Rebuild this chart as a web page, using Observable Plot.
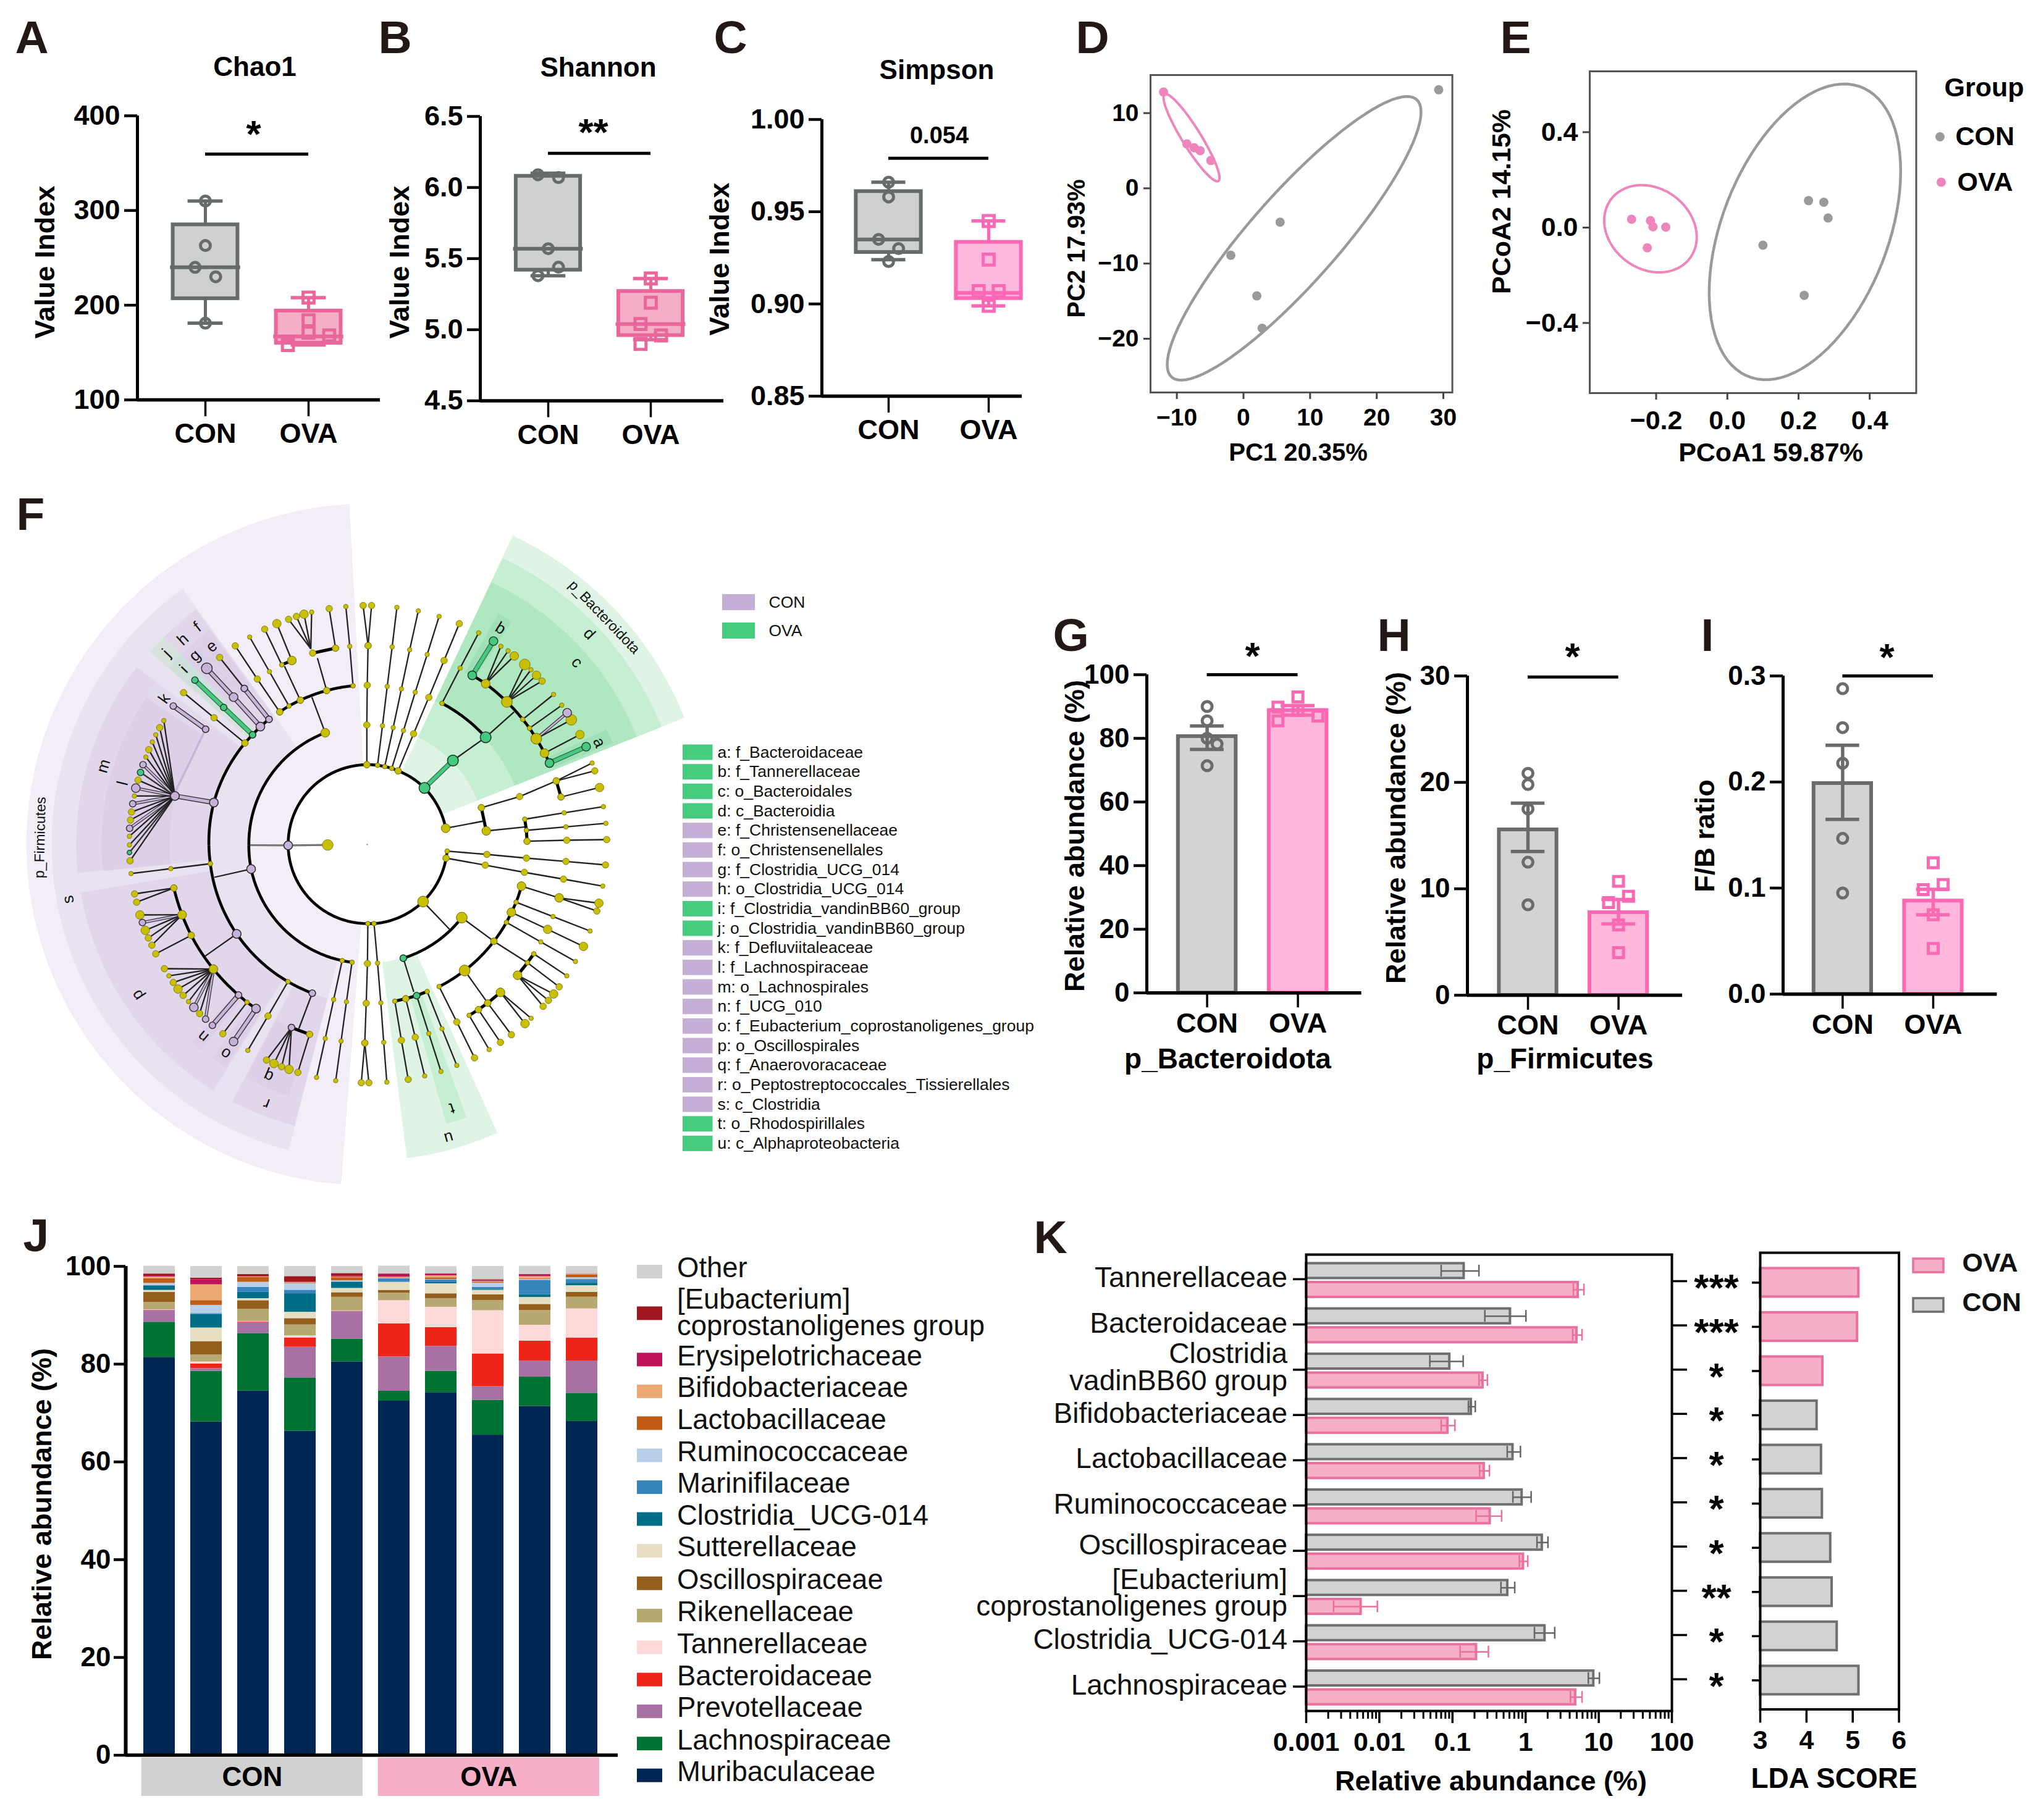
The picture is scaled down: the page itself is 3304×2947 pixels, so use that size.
<!DOCTYPE html>
<html>
<head>
<meta charset="utf-8">
<script src="https://cdn.jsdelivr.net/npm/d3@7"></script>
<script src="https://cdn.jsdelivr.net/npm/@observablehq/plot@0.6"></script>
<style>html,body{margin:0;padding:0;background:#fff}#root{position:relative;width:3304px;height:2947px;overflow:hidden;background:#fff}</style>
</head>
<body>
<div id="root"></div>
<script>
// ---------- shared ----------
const groups = ["CON", "OVA"];
const FONT = "'Liberation Sans', Arial, sans-serif";
const GREY = {fill: "#d0d0d0", stroke: "#666b6b"};
const PINK_A = {fill: "#f4afc7", stroke: "#e9669b"};
const PINK_C = {fill: "#fdb9dd", stroke: "#fb69b6"};

// ---------- A, B, C: whisker-low, q1, median, q3, whisker-high ----------
const chao1Stats = [[181, 207, 240, 285, 310], [158, 160, 167, 194, 208]];
const chao1Points = [[310, 263, 240, 230, 181], [208, 184, 171, 168, 158]];
const chao1Jitter = [[0, 0, -1, 1, 0], [0, 0, 0, 2, -2]];
const shannonStats = [[5.38, 5.42, 5.57, 6.08, 6.1], [4.93, 4.96, 5.04, 5.27, 5.36]];
const shannonPoints = [[6.09, 6.07, 5.57, 5.44, 5.38], [5.36, 5.19, 5.04, 4.96, 4.9]];
const shannonJitter = [[-1, 1, 0, 1, -1], [0, 0, -1, 1, -1]];
const simpsonStats = [[0.924, 0.928, 0.935, 0.961, 0.966], [0.899, 0.903, 0.906, 0.9335, 0.945]];
const simpsonPoints = [[0.966, 0.958, 0.935, 0.93, 0.923], [0.945, 0.924, 0.907, 0.907, 0.899]];
const simpsonJitter = [[0, 0, -1, 1, 0], [0, 0, -1, 1, 0]];

// ---------- D, E ----------
const pcaCon = [[29.3, 13.1], [5.5, -4.5], [-1.9, -8.9], [2.0, -14.3], [2.8, -18.6]];
const pcaOva = [[-12, 12.8], [-8.5, 5.9], [-7.4, 5.4], [-6.5, 5.0], [-4.9, 3.7]];
const pcoaCon = [[0.228, 0.113], [0.271, 0.106], [0.283, 0.04], [0.1, -0.074], [0.216, -0.284]];
const pcoaOva = [[-0.269, 0.035], [-0.216, 0.029], [-0.209, 0.003], [-0.173, 0.002], [-0.225, -0.085]];
// centre x, centre y, half extent x, half extent y, correlation
const pcaEllipses = [[7.6, -6.65, 19.05, 18.86, 0.89], [-7.8, 6.73, 4.2, 5.8, -0.92]];
const pcoaEllipses = [[0.218, -0.018, 0.269, 0.62, 0.41], [-0.216, -0.005, 0.13, 0.183, -0.19]];

// ---------- G, H, I: CON, OVA ----------
const bacteroidotaMean = [80.6, 88.8], bacteroidotaHi = [83.9, 90.3], bacteroidotaLo = [76.5, 87.3];
const bacteroidotaPoints = [[90, 85.5, 80, 78.2, 71.4], [93, 89.8, 88.8, 87, 85.5]];
const bacteroidotaJitter = [[0, 0, 0, 1, 0], [0, -2, 0, 2, -2]];
const firmicutesMean = [15.55, 7.77], firmicutesHi = [18.05, 9.0], firmicutesLo = [13.5, 6.7];
const firmicutesPoints = [[20.85, 19.8, 17.5, 12.5, 8.5], [10.7, 9.3, 8.7, 6.6, 4.0]];
const firmicutesJitter = [[0, 0, 0, 0, 0], [0, 1, -1, 0, 0]];
const fbMean = [0.1987, 0.0879], fbHi = [0.2347, 0.0988], fbLo = [0.1648, 0.0748];
const fbPoints = [[0.288, 0.2513, 0.2177, 0.1468, 0.0953], [0.1239, 0.1034, 0.0985, 0.0748, 0.0431]];
const fbJitter = [[0, 0, 0, 0, 0], [0, 1, -1, 0, 0]];

// ---------- J ----------
const samples = ["C1", "C2", "C3", "C4", "C5", "O1", "O2", "O3", "O4", "O5"];
const muribaculaceae = [81.4, 68.2, 74.5, 66.3, 80.5, 72.46, 74.2, 65.5, 71.4, 68.3];
const lachnospiraceae = [7.2, 10.37, 11.8, 10.92, 4.63, 2.02, 4.38, 7.14, 5.98, 5.76];
const prevotellaceae = [2.4, 0.55, 2.23, 6.27, 5.64, 7.03, 5.09, 2.78, 3.28, 6.61];
const bacteroidaceae = [0.08, 0.93, 0.09, 1.9, 0.08, 6.74, 3.83, 6.7, 4.08, 4.67];
const tannerellaceae = [0.08, 0.42, 0.08, 0.42, 0.08, 4.76, 4.17, 8.84, 3.24, 5.98];
const rikenellaceae = [1.47, 1.43, 2.53, 2.23, 2.78, 1.56, 1.77, 2.1, 3.0, 2.4];
const oscillospiraceae = [2.06, 2.74, 1.77, 1.3, 0.93, 0.55, 0.97, 1.14, 1.26, 1.0];
const sutterellaceae = [0.42, 2.78, 0.42, 1.3, 0.88, 1.64, 2.06, 0.93, 1.43, 1.35];
const clostridiaUCG014 = [0.93, 2.78, 1.3, 3.79, 1.22, 0.02, 0.25, 0.17, 0.55, 0.5];
const marinifilaceae = [0.05, 0.17, 1.0, 0.72, 0.13, 0.72, 0.5, 0.42, 2.95, 0.76];
const ruminococcaceae = [0.46, 1.68, 1.05, 1.35, 0.21, 0.13, 0.13, 0.88, 0.2, 0.38];
const lactobacillaceae = [0.93, 0.97, 0.97, 0.13, 0.63, 0.13, 0.34, 0.2, 0.13, 0.55];
const bifidobacteriaceae = [0.38, 3.24, 0.1, 0.1, 0.13, 0.08, 0.42, 0.13, 0.42, 0.08];
const erysipelotrichaceae = [0.25, 1.0, 0.05, 0.03, 0.17, 0.59, 0.3, 0.25, 0.42, 0.05];
const eubacteriumGroup = [0.35, 0.34, 0.46, 1.18, 0.55, 0.05, 0.13, 0.13, 0.05, 0.05];
const other = [1.6, 2.4, 1.64, 2.06, 1.43, 1.6, 1.43, 2.69, 1.64, 1.56];
const stackSeries = [muribaculaceae, lachnospiraceae, prevotellaceae, bacteroidaceae, tannerellaceae, rikenellaceae, oscillospiraceae, sutterellaceae, clostridiaUCG014, marinifilaceae, ruminococcaceae, lactobacillaceae, bifidobacteriaceae, erysipelotrichaceae, eubacteriumGroup, other];
const taxa = ["Muribaculaceae", "Lachnospiraceae", "Prevotellaceae", "Bacteroidaceae", "Tannerellaceae", "Rikenellaceae", "Oscillospiraceae", "Sutterellaceae", "Clostridia_UCG-014", "Marinifilaceae", "Ruminococcaceae", "Lactobacillaceae", "Bifidobacteriaceae", "Erysipelotrichaceae", "[Eubacterium]\ncoprostanoligenes group", "Other"];
const taxaColors = ["#002654", "#007332", "#a871a3", "#ee2418", "#fddad9", "#b8a972", "#945e1c", "#e6dfc3", "#006e87", "#3685bc", "#b8cfe8", "#c05c15", "#eea873", "#c0125a", "#a0161f", "#d1d1d1"];
const taxaLegendY = [2875, 2823.5, 2771.4, 2719.9, 2667.7, 2616.2, 2564, 2511.3, 2459.9, 2408.4, 2356.9, 2304.7, 2253.2, 2201.7, 2126.7, 2059.3];

// ---------- K ----------
const kNames = ["Tannerellaceae", "Bacteroidaceae", "Clostridia\nvadinBB60 group", "Bifidobacteriaceae", "Lactobacillaceae", "Ruminococcaceae", "Oscillospiraceae", "[Eubacterium]\ncoprostanoligenes group", "Clostridia_UCG-014", "Lachnospiraceae"];
const kNudge = [-1, -1, -3, -1, -1, -1, -8, -4, -2, -1];
const kCon = [0.1436, 0.617, 0.0914, 0.18, 0.668, 0.89, 1.68, 0.567, 1.83, 8.5];
const kConLo = [0.07, 0.277, 0.049, 0.165, 0.56, 0.67, 1.43, 0.46, 1.32, 7.2];
const kConHi = [0.23, 1.01, 0.14, 0.205, 0.85, 1.19, 2.02, 0.71, 2.5, 10.2];
const kOva = [5.2, 5.0, 0.26, 0.086, 0.27, 0.326, 0.93, 0.0056, 0.212, 4.8];
const kOvaLo = [4.5, 4.4, 0.23, 0.07, 0.235, 0.21, 0.82, 0.00237, 0.127, 4.1];
const kOvaHi = [6.27, 5.9, 0.3, 0.108, 0.32, 0.47, 1.07, 0.0094, 0.31, 5.9];
const kSignif = ["***", "***", "*", "*", "*", "*", "*", "**", "*", "*"];
const ldaScore = [5.127, 5.1, 4.35, 4.225, 4.32, 4.34, 4.52, 4.55, 4.66, 5.13];
const ldaGroup = ["OVA", "OVA", "OVA", "CON", "CON", "CON", "CON", "CON", "CON", "CON"];
const logMajor = [0.001, 0.01, 0.1, 1, 10, 100];
const logMinor = [0.002,0.003,0.004,0.005,0.006,0.007,0.008,0.009,0.02,0.03,0.04,0.05,0.06,0.07,0.08,0.09,0.2,0.3,0.4,0.5,0.6,0.7,0.8,0.9,2,3,4,5,6,7,8,9,20,30,40,50,60,70,80,90];

// ---------- F: cladogram, read off the picture by quadrant ----------
// node size tokens: s m l x yellow, Ps Pm Pl Px purple, Gs Gm Gl Gx green, "" a bare joint
const cladeNW = [
  ["arc", 1180,818,"m", 798,1209,""],
  ["arc", 978,663,"l", 607,1209,""],
  ["arc", 1113,435,"s", 985,458,"m", 857,505,"m", 802,533,"s", 757,562,"m"],
  ["arc", 705,598,"Pm", 663,633,"Pl", 625,673,"Gm", 588,713,"m", 437,1002,"Pl", 413,1209,""],
  ["thin", 1180,818,"m", 1180,625,"m", 1182,432,"m", 1186,240,"m"],
  ["fan", 1186,240,"m", 1162,45,"m", 1203,45,"m"],
  ["thin", 978,663,"l", 913,490,""],
  ["thin", 1113,435,"s", 1097,243,"s", 1078,50,"s"],
  ["thin", 985,458,"m", 940,300,""],
  ["thick", 917,276,"m", 1028,252,"m"],
  ["thin", 1028,252,"m", 997,60,"m"],
  ["fan", 908,255,"", 912,77,"s", 875,87,"l", 838,98,"m", 800,112,"m"],
  ["thin", 857,505,"m", 780,340,""],
  ["thick", 767,333,"s", 816,312,"l"],
  ["thin", 816,312,"l", 743,133,"l"],
  ["thin", 767,333,"s", 684,160,"m"],
  ["thin", 802,533,"s", 707,366,"s", 611,198,"s"],
  ["thin", 757,562,"m", 648,402,"m", 541,241,"m"],
  ["purple", 705,598,"Pm", 585,448,"Pm"],
  ["thin", 585,448,"Pm", 465,297,"m"],
  ["purple", 663,633,"Pl", 533,490,"Pl", 403,350,"Px"],
  ["green", 625,673,"Gm", 485,540,"Gm", 345,407,"Gm"],
  ["thin", 588,713,"m", 438,590,"m", 290,468,"m"],
  ["lav", 397,646,"Pm", 250,950,""],
  ["purple", 397,646,"Pm", 240,533,"Pm"],
  ["purple", 437,1002,"Pl", 248,970,"Pl"],
  ["fan", 248,970,"Pl", 194,604,"s", 174,638,"m", 155,673,"s", 138,708,"s", 121,745,"m", 107,781,"s", 93,818,"Pm", 81,856,"Gm", 69,893,"m", 58,932,"Pl", 51,970,"s", 43,1008,"Pm", 37,1048,"m", 32,1087,"m", 28,1127,"Pm", 27,1166,"s", 27,1208,"s", 27,1245,"Gs", 30,1285,"m"]
];
const cladeNE = [
  ["arc", 12,818,"", 62,821,"s", 97,827,"s", 131,836,"s", 162,848,"m", 290,931,"Gx", 393,1127,"l"],
  ["thin", 62,821,"s", 86,629,"s", 109,438,"s", 133,246,"s", 156,54,"s"],
  ["thin", 97,827,"s", 138,638,"s", 178,450,"s", 218,260,"s", 260,71,"s"],
  ["thin", 131,836,"s", 188,652,"s", 245,466,"s", 303,283,"s", 361,98,"s"],
  ["thin", 162,848,"m", 237,668,"m", 311,491,"m", 385,312,"m", 459,133,"m"],
  ["green", 290,931,"Gx", 428,798,"Gx"],
  ["thin", 428,798,"Gx", 587,685,"Gx", 725,562,""],
  ["arc", 375,520,"s", 587,685,"Gx"],
  ["thin", 375,520,"s", 463,349,"s", 553,178,"s"],
  ["arc", 522,384,"Gl", 587,425,"l", 690,513,"x", 767,598,"s", 800,641,"s", 833,692,"x", 873,762,"l", 897,810,"Gl"],
  ["green", 522,384,"Gl", 625,218,"Gl"],
  ["fan", 587,425,"l", 661,243,"s", 696,265,"s", 726,290,"l"],
  ["fan", 690,513,"x", 777,331,"x", 807,357,"s", 834,384,"l", 861,412,"m"],
  ["thin", 767,598,"s", 917,477,"s"],
  ["thin", 800,641,"s", 957,529,"s"],
  ["fan", 833,692,"x", 983,566,"Pl", 1003,600,"x"],
  ["thin", 873,762,"l", 1045,672,"l"],
  ["green", 897,810,"Gl", 1075,731,"Gl"],
  ["thin", 393,1127,"l", 577,1092,""],
  ["thick", 566,1027,"m", 590,1140,"l"],
  ["thin", 566,1027,"m", 752,973,"m", 930,897,"m"],
  ["thick", 930,897,"m", 953,975,"m"],
  ["fan", 930,897,"m", 1104,810,"s", 1117,848,"m"],
  ["thin", 953,975,"m", 1140,929,"l"],
  ["thin", 590,1140,"l", 783,1120,""],
  ["thick", 777,1083,"s", 785,1137,"s", 788,1190,"m"],
  ["thin", 777,1083,"s", 968,1052,"s", 1159,1022,"s"],
  ["thin", 785,1137,"s", 977,1120,"s", 1171,1103,"s"],
  ["thin", 788,1190,"m", 981,1185,"m", 1175,1182,"m"]
];
const cladeSW = [
  ["arc", 798,10,"Pl", 1185,390,"s"],
  ["arc", 607,9,"", 618,125,"Pl", 1060,570,"s", 1108,578,"s"],
  ["arc", 413,9,"", 420,99,"s", 548,440,"Pl", 797,672,"s", 915,728,"Pm"],
  ["arc", 243,217,"m", 283,347,"l", 327,447,"m", 435,611,"l", 557,737,"Pm", 598,772,"s", 642,803,"Pl"],
  ["grey", 607,9,"", 798,10,"Pl", 990,8,"x"],
  ["thin", 618,125,"Pl", 440,165,""],
  ["thin", 548,440,"Pl", 395,548,""],
  ["thin", 420,99,"s", 228,123,"s", 35,147,"s"],
  ["fan", 243,217,"m", 52,246,"m", 62,286,"m"],
  ["fan", 283,347,"l", 78,348,"l", 90,385,"Pm", 104,423,"l", 119,460,"m", 136,495,"m"],
  ["thin", 327,447,"m", 155,537,"m"],
  ["fan", 435,611,"l", 197,609,"m", 219,644,"s", 240,676,"m", 263,708,"l", 288,739,"m", 314,769,"s", 340,797,"Pl", 368,827,"m", 397,854,"Pm"],
  ["purple", 557,737,"Pm", 430,884,"Pm"],
  ["thin", 598,772,"s", 481,925,"m"],
  ["purple", 642,803,"Pl", 533,963,"Pl"],
  ["thin", 797,672,"s", 700,839,"m", 602,1006,"s"],
  ["thin", 915,728,"Pm", 850,900,""],
  ["thick", 814,895,"Pm", 902,928,"m"],
  ["fan", 814,895,"Pm", 693,1053,"m", 729,1070,"l", 766,1085,"m", 802,1098,"l"],
  ["thin", 902,928,"m", 845,1113,"m"],
  ["thin", 1060,570,"s", 1019,759,"s", 978,948,"s", 936,1137,"s"],
  ["thin", 1108,578,"s", 1081,770,"s", 1055,961,"s", 1029,1153,"s"],
  ["thin", 1185,390,"s", 1183,584,"m", 1177,777,"m", 1170,970,"m"],
  ["fan", 1170,970,"m", 1153,1163,"m", 1190,1163,"m"]
];
const cladeSE = [
  ["arc", 400,38,"s", 395,72,"m", 283,283,"x", 45,390,"s", 15,390,""],
  ["thin", 400,38,"s", 593,54,"m", 785,72,"m", 977,88,"m", 1169,105,"m"],
  ["thin", 395,72,"m", 585,106,"m", 775,141,"m", 965,174,"m", 1156,208,"s"],
  ["thin", 45,390,"s", 62,582,"s", 78,775,"s", 92,967,"s", 107,1160,"s"],
  ["thin", 283,283,"x", 411,417,""],
  ["arc", 471,361,"x", 187,558,"Gm"],
  ["thin", 187,558,"Gm", 238,722,""],
  ["thick", 146,767,"s", 199,755,"m", 252,740,"Gm", 303,720,"s"],
  ["thin", 146,767,"s", 178,957,"m", 211,1147,"m"],
  ["thin", 199,755,"m", 245,942,"m", 291,1130,"s"],
  ["thin", 252,740,"Gm", 311,924,"s", 370,1108,"s"],
  ["thin", 303,720,"s", 375,901,"s", 447,1079,"s"],
  ["thin", 471,361,"x", 627,476,"m"],
  ["arc", 761,208,"l", 735,286,"s", 712,335,"l", 688,384,"s", 627,476,"m", 485,618,"x", 361,696,"s"],
  ["thin", 761,208,"l", 944,265,"l"],
  ["fan", 944,265,"l", 1137,291,"l", 1127,329,"m"],
  ["thin", 735,286,"s", 914,356,"s", 1094,426,"s"],
  ["thin", 712,335,"l", 888,418,"l", 1062,501,"l"],
  ["thin", 688,384,"s", 855,479,"s", 1023,574,"s"],
  ["thin", 627,476,"m", 790,580,"s"],
  ["thick", 821,537,"s", 790,580,"s", 742,641,"l"],
  ["thin", 821,537,"s", 981,644,"s"],
  ["thin", 790,580,"s", 944,697,"m"],
  ["fan", 742,641,"l", 917,732,"l", 892,763,"m", 866,792,"m"],
  ["thin", 485,618,"x", 597,776,"m"],
  ["thick", 659,724,"l", 597,776,"m", 552,808,"m", 507,836,"s"],
  ["fan", 659,724,"l", 808,850,"s", 778,876,"l"],
  ["thin", 597,776,"m", 712,930,"m"],
  ["thin", 552,808,"m", 659,967,"m"],
  ["thin", 507,836,"s", 604,1002,"s"],
  ["thin", 361,696,"s", 447,868,"m", 533,1042,"m"]
];
// inner radius, outer radius, start bearing, end bearing, colour
const cladeWedges = [
  [128,552,184.4,357,"#f2edf6"],
  [192,511,194.4,324.2,"#e9e3f1"],
  [257,471,264.4,307.6,"#e1d6ea"],
  [320,430,264.3,303.7,"#ddcfe7"],
  [257,470,212,260.5,"#e1d6ea"],
  [257,470,194.5,207.7,"#e1d6ea"],
  [320,426,197.3,207.5,"#ddcfe7"],
  [320,427,219,221.6,"#ddcfe7"],
  [320,427,212.4,216,"#ddcfe7"],
  [257,471,319.7,324,"#e1d6ea"],
  [320,431,320,323.6,"#ddcfe7"],
  [257,470,315.6,319.7,"#e1d6ea"],
  [320,430,315.6,320,"#ddcfe7"],
  [257,470,311.6,315.6,"#d7e2dd"],
  [320,431,311.8,315.6,"#cfe0da"],
  [320,430,303.7,307.6,"#e3d9ec"],
  [128,553,25.2,68.2,"#e0f4e6"],
  [192,513,25.3,68.2,"#c6eed3"],
  [257,470,25.3,68.2,"#afe7c1"],
  [320,430,64.3,67.5,"#9fe0b6"],
  [320,430,29.6,32.9,"#9fe0b6"],
  [192,512,155.7,172.8,"#e0f4e6"],
  [257,470,160,164.2,"#c6eed3"]
];
const cladeLabels = [["p_Firmicutes",64.5,1355.7,23],["s",110,1456,26],["m",167,1240,26],["l",198,1268,26],["k",265.5,1130.6,26],["j",269,1057,26],["i",297,1083,26],["h",295.6,1035,26],["g",315,1061,26],["f",319,1014.7,26],["e",342,1046,26],["p",222,1611,26],["n",328,1678,26],["o",364.5,1705.6,26],["q",434,1742,26],["r",431,1787,26],["t",731,1794,26],["u",726,1842,26],["p_Bacteroidota",977.6,998.6,23],["d",953.4,1025.7,26],["c",933.6,1072,26],["b",809.7,1017,26],["a",969.6,1201.7,26]];
const fListNames = ["a: f_Bacteroidaceae","b: f_Tannerellaceae","c: o_Bacteroidales","d: c_Bacteroidia","e: f_Christensenellaceae","f: o_Christensenellales","g: f_Clostridia_UCG_014","h: o_Clostridia_UCG_014","i: f_Clostridia_vandinBB60_group","j: o_Clostridia_vandinBB60_group","k: f_Defluviitaleaceae","l: f_Lachnospiraceae","m: o_Lachnospirales","n: f_UCG_010","o: f_Eubacterium_coprostanoligenes_group","p: o_Oscillospirales","q: f_Anaerovoracaceae","r: o_Peptostreptococcales_Tissierellales","s: c_Clostridia","t: o_Rhodospirillales","u: c_Alphaproteobacteria"];
const fListGroup = ["OVA","OVA","OVA","OVA","CON","CON","CON","CON","OVA","OVA","CON","CON","CON","CON","CON","CON","CON","CON","CON","OVA","OVA"];
const fColors = {CON: "#c5afd7", OVA: "#47cc7f"};

// ---------- overlay text ----------
const panelLetters = [["A",24,85],["B",612,85],["C",1155,85],["D",1741,85],["E",2428,85],["F",26,857],["G",1704,1053],["H",2229,1053],["I",2753,1053],["J",37,2025],["K",1673,2028]];
const boldLabels = [
  ["Chao1",412,108,44,0],["Shannon",968,109,44,0],["Simpson",1516,113,44,0],
  ["Value Index",73,424,45,-90],["Value Index",647,424,45,-90],["Value Index",1165,419,45,-90],
  ["0.054",1520,219,38,0],
  ["PC1 20.35%",2101,733,40,0],["PC2 17.93%",1743,402,40,-90],
  ["PCoA1 59.87%",2866,733,43,0],["PCoA2 14.15%",2431,326,43,-90],
  ["Relative abundance (%)",1740,1353,45,-90],["Relative abundance (%)",2260,1340,45,-90],["F/B ratio",2760,1353,45,-90],
  ["p_Bacteroidota",1987,1715,46,0],["p_Firmicutes",2533,1715,46,0],
  ["Relative abundance (%)",68,2435,45,-90],
  ["Relative abundance (%)",2413,2884.5,45,0],["LDA SCORE",2968.6,2879.4,46,0]
];
const startLabels = [["Group",3147,142],["CON",3165,221],["OVA",3168,294.5]];
const sigStars = [["*",410,206.5],["**",960,204],["*",2027,1052],["*",2545,1053],["*",3054,1054]];
const eLegendDots = [["CON",3140,221],["OVA",3142,294.5]];

// ---------- helpers ----------
const root = document.getElementById("root");
function panel({frame:[l,t,r,b], pad=[130,30,30,90], x={}, y={}, color, marks}) {
  const [pl,pt,pr,pb] = pad;
  const L = l-pl, T = t-pt;
  const fix = (s,o) => s.range ? {...s, range: s.range.map(v => v-o)} : s;
  const opts = {width:r-l+pl+pr, height:b-t+pt+pb, marginLeft:pl, marginTop:pt, marginRight:pr, marginBottom:pb,
    x:{axis:null, ...fix(x,L)}, y:{axis:null, ...fix(y,T)}, style:{fontFamily:FONT, overflow:"visible", background:"transparent", color:"#000"}, marks};
  if (color) opts.color = color;
  const svg = Plot.plot(opts);
  svg.style.position = "absolute"; svg.style.left = L+"px"; svg.style.top = T+"px"; svg.style.maxWidth = "none";
  root.append(svg);
  return svg;
}
const yAxis = (ticks,o={}) => Plot.axisY({ticks, anchor:"left", label:null, tickSize:21, tickPadding:7, fontSize:45, fontWeight:700, strokeWidth:4.5, ...o});
const xAxis = (ticks,o={}) => Plot.axisX({ticks, anchor:"bottom", label:null, tickSize:27, tickPadding:11, fontSize:45, fontWeight:700, strokeWidth:3.5, tickFormat:d => groups[d], ...o});
const spine = ([l],xpx,yDomain) => Plot.ruleX([(l-xpx[0])/(xpx[1]-xpx[0])],{y1:()=>yDomain[0],y2:()=>yDomain[1],stroke:"#000",strokeWidth:5});

function boxPanel({frame, yDomain, ticks, fmt, xpx, stats, points, jitter, pink, sig, halfW=0.314}) {
  const marks = [];
  groups.forEach((_,g) => {
    const c = g ? pink : GREY, [lo,q1,med,q3,hi] = stats[g];
    const row = [{g,lo,q1,med,q3,hi}];
    marks.push(
      Plot.ruleX(row,{x:"g",y1:"lo",y2:"hi",stroke:c.stroke,strokeWidth:5}),
      Plot.ruleY(row,{y:"hi",x1:d=>d.g-0.17,x2:d=>d.g+0.17,stroke:c.stroke,strokeWidth:5.5}),
      Plot.ruleY(row,{y:"lo",x1:d=>d.g-0.17,x2:d=>d.g+0.17,stroke:c.stroke,strokeWidth:5.5}),
      Plot.rect(row,{x1:d=>d.g-halfW,x2:d=>d.g+halfW,y1:"q1",y2:"q3",fill:c.fill,stroke:c.stroke,strokeWidth:6}),
      Plot.ruleY(row,{y:"med",x1:d=>d.g-0.34,x2:d=>d.g+0.34,stroke:c.stroke,strokeWidth:6}),
      Plot.dot(points[g].map((v,i)=>({v,j:jitter[g][i]})),{x:d=>g+d.j*0.1,y:"v",r:g?10:8,symbol:g?"square":"circle",fill:"none",stroke:c.stroke,strokeWidth:5})
    );
  });
  marks.push(
    Plot.ruleY([sig],{x1:()=>0,x2:()=>1,stroke:"#000",strokeWidth:5}),
    yAxis(ticks,{tickFormat:fmt}), xAxis([0,1]),
    Plot.ruleY([yDomain[0]],{stroke:"#000",strokeWidth:5.5}),
    spine(frame,xpx,yDomain)
  );
  panel({frame, x:{domain:[0,1],range:xpx}, y:{domain:yDomain}, marks});
}
function barPanel({frame, yMax, ticks, fmt, xpx, mean, hi, lo, points, jitter, sig}) {
  const marks = [];
  const rows = groups.map((_,g)=>({g,mean:mean[g],hi:hi[g],lo:lo[g]}));
  groups.forEach((_,g) => {
    const c = g ? {fill:"#ffb8dc",stroke:"#fb69b4"} : {fill:"#d3d3d3",stroke:"#6b6b6b"};
    const row = [rows[g]];
    marks.push(
      Plot.rect(row,{x1:d=>d.g-0.318,x2:d=>d.g+0.318,y1:()=>0,y2:"mean",fill:c.fill,stroke:c.stroke,strokeWidth:6}),
      Plot.ruleX(row,{x:"g",y1:"lo",y2:"hi",stroke:c.stroke,strokeWidth:5.5}),
      Plot.ruleY(row,{y:"hi",x1:d=>d.g-0.186,x2:d=>d.g+0.186,stroke:c.stroke,strokeWidth:5.5}),
      Plot.ruleY(row,{y:"lo",x1:d=>d.g-0.186,x2:d=>d.g+0.186,stroke:c.stroke,strokeWidth:5.5}),
      Plot.dot(points[g].map((v,i)=>({v,j:jitter[g][i]})),{x:d=>g+d.j*0.11,y:"v",r:g?9:8,symbol:g?"square":"circle",fill:"none",stroke:c.stroke,strokeWidth:5})
    );
  });
  marks.push(
    Plot.ruleY([sig],{x1:()=>0,x2:()=>1,stroke:"#000",strokeWidth:5}),
    yAxis(ticks,{tickFormat:fmt,fontSize:44}), xAxis([0,1],{tickSize:24,tickPadding:8}),
    Plot.ruleY([0],{stroke:"#000",strokeWidth:5.5}),
    spine(frame,xpx,[0,yMax])
  );
  panel({frame, x:{domain:[0,1],range:xpx}, y:{domain:[0,yMax]}, marks});
}
function ellipsePts([cx,cy,rx,ry,rho]) {
  const d = Math.acos(rho);
  return d3.range(0,361,4).map(a => { const t=a*Math.PI/180; return {x:cx+rx*Math.cos(t), y:cy+ry*Math.cos(t-d)}; });
}
function ordPanel({frame, xDomain, yDomain, xTicks, yTicks, xFmt, yFmt, con, ova, ells, fs, xPad}) {
  const col = ["#9a9a9a","#ee85bd"];
  panel({frame, x:{domain:xDomain}, y:{domain:yDomain}, marks:[
    Plot.frame({stroke:"#555",strokeWidth:3}),
    Plot.line(ellipsePts(ells[0]),{x:"x",y:"y",stroke:col[0],strokeWidth:4.5}),
    Plot.line(ellipsePts(ells[1]),{x:"x",y:"y",stroke:col[1],strokeWidth:4}),
    Plot.dot(con,{x:"0",y:"1",r:7.5,fill:col[0]}),
    Plot.dot(ova,{x:"0",y:"1",r:7.5,fill:col[1]}),
    Plot.axisX({ticks:xTicks,anchor:"bottom",label:null,tickSize:11,tickPadding:xPad,fontSize:fs,fontWeight:700,strokeWidth:3,stroke:"#444",tickFormat:xFmt}),
    Plot.axisY({ticks:yTicks,anchor:"left",label:null,tickSize:11,tickPadding:8,fontSize:fs,fontWeight:700,strokeWidth:3,stroke:"#444",tickFormat:yFmt})
  ]});
}
function swatchList({names, fills, strokes, sx, sw, sh, ys, textX, fontSize, fontWeight=400, textDy=0}) {
  const rows = names.map((name,i)=>({name,fill:fills[i],stroke:strokes?strokes[i]:"none",y:ys[i]}));
  const t = Math.min(...ys)-sh, b = Math.max(...ys)+sh, r = textX+900;
  panel({frame:[sx,t,r,b], pad:[4,4,4,4], x:{domain:[sx,r]}, y:{domain:[t,b],range:[t,b]}, marks:[
    Plot.rect(rows,{x1:()=>sx,x2:()=>sx+sw,y1:d=>d.y-sh/2,y2:d=>d.y+sh/2,fill:"fill",stroke:"stroke",strokeWidth:strokes?3.5:0}),
    Plot.text(rows,{x:()=>textX,y:d=>d.y+(d.name.includes("\n")?0:textDy),text:"name",textAnchor:"start",fontSize,fontWeight,lineHeight:0.95,fill:"#111"})
  ]});
}

// ---------- panels A-C ----------
boxPanel({frame:[222,187,615,647], yDomain:[100,400], ticks:[100,200,300,400], fmt:d3.format("d"), xpx:[332,499], stats:chao1Stats, points:chao1Points, jitter:chao1Jitter, pink:PINK_A, sig:359.6});
boxPanel({frame:[777,187.5,1171,648], yDomain:[4.5,6.5], ticks:[4.5,5,5.5,6,6.5], fmt:d3.format(".1f"), xpx:[887,1053], stats:shannonStats, points:shannonPoints, jitter:shannonJitter, pink:PINK_A, sig:6.24});
boxPanel({frame:[1330,193,1654,641], yDomain:[0.85,1], ticks:[0.85,0.9,0.95,1], fmt:d3.format(".2f"), xpx:[1438,1600], stats:simpsonStats, points:simpsonPoints, jitter:simpsonJitter, pink:PINK_C, sig:0.979, halfW:0.325});

// ---------- panels D, E ----------
const minusFmt = f => d => d3.format(f)(d).replace("-","\u2212");
ordPanel({frame:[1862,121,2350.6,635], xDomain:[-13.95,31.35], yDomain:[-27.14,15.06], xTicks:[-10,0,10,20,30], yTicks:[-20,-10,0,10], xFmt:minusFmt("d"), yFmt:minusFmt("d"), con:pcaCon, ova:pcaOva, ells:pcaEllipses, fs:39, xPad:15});
ordPanel({frame:[2572.5,115,3101,636], xDomain:[-0.3866,0.5307], yDomain:[-0.694,0.655], xTicks:[-0.2,0,0.2,0.4], yTicks:[-0.4,0,0.4], xFmt:minusFmt(".1f"), yFmt:minusFmt(".1f"), con:pcoaCon, ova:pcoaOva, ells:pcoaEllipses, fs:43, xPad:17});

// ---------- panel F ----------
const CX = 594, CY = 1367;
const quadrants = [[cladeNW,200,965],[cladeNE,590,965],[cladeSW,200,1365],[cladeSE,590,1365]];
const nodeR = {s:3.7,m:5.3,l:7,x:8.7};
const linkRows = [], nodeRows = [];
let linkId = 0;
function addLink(kind, a, b, arc) {
  const id = linkId++;
  if (!arc) { linkRows.push({id,kind,x:a[0],y:a[1]},{id,kind,x:b[0],y:b[1]}); return; }
  const ra = Math.hypot(a[0]-CX,a[1]-CY), rb = Math.hypot(b[0]-CX,b[1]-CY);
  const ta = Math.atan2(a[1]-CY,a[0]-CX); let tb = Math.atan2(b[1]-CY,b[0]-CX);
  let dt = tb-ta; if (dt>Math.PI) dt-=2*Math.PI; if (dt<-Math.PI) dt+=2*Math.PI;
  d3.range(0,25).forEach(i => { const f=i/24, r=ra+(rb-ra)*f, t=ta+dt*f; linkRows.push({id,kind,x:CX+r*Math.cos(t),y:CY+r*Math.sin(t)}); });
}
function addNode(p, token) {
  if (!token) return;
  const hue = token.length>1 ? token[0] : "Y", size = token[token.length-1];
  nodeRows.push({x:p[0],y:p[1],hue,r:nodeR[size]});
}
quadrants.forEach(([rows,ox,oy]) => rows.forEach(row => {
  const kind = row[0], pts = [];
  for (let i=1;i<row.length;i+=3) pts.push({p:[ox+row[i]/3,oy+row[i+1]/3],s:row[i+2]});
  pts.forEach(d => addNode(d.p,d.s));
  if (kind==="fan") {
    pts.slice(1).forEach(d => {
      const h = d.s[0];
      addLink(d.s.length>1 ? (h==="P"?"minipurple":"minigreen") : "thin", pts[0].p, d.p, false);
    });
  } else {
    for (let i=0;i+1<pts.length;i++) addLink(kind, pts[i].p, pts[i+1].p, kind==="arc");
  }
}));
function wedgePts([r0,r1,a0,a1]) {
  const pol = (r,a) => ({x:CX+r*Math.sin(a*Math.PI/180), y:CY-r*Math.cos(a*Math.PI/180)});
  const steps = d3.range(0,41).map(i => a0+(a1-a0)*i/40);
  return [...steps.map(a=>pol(r1,a)), ...steps.slice().reverse().map(a=>pol(r0,a))];
}
const linkMark = (kind, stroke, strokeWidth) => Plot.line(linkRows.filter(d=>d.kind===kind),{x:"x",y:"y",z:"id",stroke,strokeWidth,strokeLinecap:"butt"});
const labelRows = cladeLabels.map(([text,x,y,size]) => {
  let a = Math.atan2(x-CX,CY-y)*180/Math.PI; if (a<0) a+=360;
  return {text,x,y,size,rotate:a};
});
const nodeFill = {Y:"#c8bf00",P:"#c7b1d8",G:"#45c97e"}, nodeStroke = {Y:"#6e6a10",P:"#2c2c2c",G:"#1d3a2a"};
const nodeMarks = d3.groups(nodeRows, d=>d.hue, d=>d.r).flatMap(([hue,bySize]) => bySize.map(([r,rows]) =>
  Plot.dot(rows,{x:"x",y:"y",r,fill:nodeFill[hue],stroke:nodeStroke[hue],strokeWidth:hue==="Y"?0.8:1.4})));
panel({frame:[20,800,1140,1930], pad:[2,2,2,2], x:{domain:[20,1140]}, y:{domain:[800,1930],range:[800,1930]}, marks:[
  ...cladeWedges.map(w => Plot.line(wedgePts(w),{x:"x",y:"y",fill:w[4],stroke:"none"})),
  linkMark("minipurple","#333",5), linkMark("minipurple","#c9b5dc",2.6),
  linkMark("minigreen","#333",2.4),
  linkMark("lav","#c5b5da",3.5),
  linkMark("purple","#3a3a3a",8), linkMark("purple","#c9b5dc",5),
  linkMark("green","#2f6f4d",8), linkMark("green","#45c97e",5.5),
  linkMark("grey","#777",3.2),
  linkMark("thin","#222",2.3),
  linkMark("thick","#000",5),
  linkMark("arc","#000",4.6),
  ...nodeMarks,
  Plot.dot([[CX,CY]],{x:"0",y:"1",r:1,fill:"#6e6a10"}),
  Plot.text(labelRows,{x:"x",y:"y",text:"text",rotate:"rotate",fontSize:"size",fill:"#111"})
]});

swatchList({names:groups, fills:[fColors.CON,fColors.OVA], sx:1169, sw:53, sh:26, ys:[975,1021], textX:1244, fontSize:26.5});
swatchList({names:fListNames, fills:fListGroup.map(g=>fColors[g]), sx:1105, sw:48.5, sh:25, ys:fListNames.map((_,i)=>1218+i*31.67), textX:1161, fontSize:26.5});

// ---------- panels G-I ----------
barPanel({frame:[1856.4,1092.4,2204,1607.6], yMax:100, ticks:[0,20,40,60,80,100], fmt:d3.format("d"), xpx:[1954,2101], mean:bacteroidotaMean, hi:bacteroidotaHi, lo:bacteroidotaLo, points:bacteroidotaPoints, jitter:bacteroidotaJitter, sig:100});
barPanel({frame:[2375,1093.6,2723,1610.6], yMax:30, ticks:[0,10,20,30], fmt:d3.format("d"), xpx:[2473,2619.6], mean:firmicutesMean, hi:firmicutesHi, lo:firmicutesLo, points:firmicutesPoints, jitter:firmicutesJitter, sig:29.9});
barPanel({frame:[2885.5,1093.6,3232,1608.8], yMax:0.3, ticks:[0,0.1,0.2,0.3], fmt:d3.format(".1f"), xpx:[2981.9,3128.5], mean:fbMean, hi:fbHi, lo:fbLo, points:fbPoints, jitter:fbJitter, sig:0.3});

// ---------- panel J ----------
const stackRows = taxa.flatMap((taxon,ti)=>samples.map((sample,si)=>({sample,taxon,v:stackSeries[ti][si]})));
panel({frame:[203,2050.4,1000,2842], x:{type:"band",domain:samples,range:[216.4,982.9],paddingInner:0.326,paddingOuter:0.163,align:0.5}, y:{domain:[0,100]}, color:{domain:taxa,range:taxaColors}, marks:[
  Plot.barY(stackRows,Plot.stackY({x:"sample",y:"v",fill:"taxon"})),
  yAxis([0,20,40,60,80,100],{tickSize:19,tickPadding:5,fontSize:44,strokeWidth:4.5,tickFormat:d3.format("d")}),
  Plot.ruleY([0],{stroke:"#000",strokeWidth:5.5})
]});
panel({frame:[203,2050.4,206,2842], pad:[4,4,4,4], x:{domain:[0,1]}, y:{domain:[0,100]}, marks:[Plot.ruleX([0],{stroke:"#000",strokeWidth:6})]});
const sampleBands = [{g:"CON",a:0,b:4},{g:"OVA",a:5,b:9}];
panel({frame:[228,2846,972,2908], pad:[30,4,30,4], x:{domain:[0,9],range:[254.7,944]}, y:{domain:[0,1],range:[2908,2846]}, marks:[
  Plot.rect(sampleBands,{x1:"a",x2:"b",y1:()=>0,y2:()=>1,insetLeft:-26,insetRight:-26,fill:d=>d.g==="CON"?"#d1d1d1":"#f6afc6"}),
  Plot.text(sampleBands,{x:d=>(d.a+d.b)/2,y:()=>0.5,text:"g",fontSize:44,fontWeight:700})
]});
swatchList({names:taxa, fills:taxaColors, sx:1030.5, sw:41, sh:22, ys:taxaLegendY, textX:1095, fontSize:45.5, textDy:-5});

// ---------- panel K ----------
const kRows = kNames.map((name,i)=>({i,name,nudge:kNudge[i],con:kCon[i],conLo:kConLo[i],conHi:kConHi[i],ova:kOva[i],ovaLo:kOvaLo[i],ovaHi:kOvaHi[i]}));
const OFFC=-0.183, OFFO=0.234, HALF=0.164, CAP=0.13;
panel({frame:[2114,2031,2706,2770], pad:[30,10,30,90], x:{type:"log",domain:[0.001,100]}, y:{domain:[0,9],range:[2070.8,2730.5]}, marks:[
  Plot.rect(kRows,{x1:()=>0.001,x2:"con",y1:d=>d.i+OFFC-HALF,y2:d=>d.i+OFFC+HALF,fill:"#d2d2d2",stroke:"#6f6f6f",strokeWidth:4}),
  Plot.rect(kRows,{x1:()=>0.001,x2:"ova",y1:d=>d.i+OFFO-HALF,y2:d=>d.i+OFFO+HALF,fill:"#f6b0c6",stroke:"#e9709f",strokeWidth:4}),
  Plot.ruleY(kRows,{x1:"conLo",x2:"conHi",y:d=>d.i+OFFC,stroke:"#666",strokeWidth:2.5}),
  Plot.ruleX(kRows,{x:"conLo",y1:d=>d.i+OFFC-CAP,y2:d=>d.i+OFFC+CAP,stroke:"#666",strokeWidth:2.5}),
  Plot.ruleX(kRows,{x:"conHi",y1:d=>d.i+OFFC-CAP,y2:d=>d.i+OFFC+CAP,stroke:"#666",strokeWidth:2.5}),
  Plot.ruleY(kRows,{x1:"ovaLo",x2:"ovaHi",y:d=>d.i+OFFO,stroke:"#e9709f",strokeWidth:2.5}),
  Plot.ruleX(kRows,{x:"ovaLo",y1:d=>d.i+OFFO-CAP,y2:d=>d.i+OFFO+CAP,stroke:"#e9709f",strokeWidth:2.5}),
  Plot.ruleX(kRows,{x:"ovaHi",y1:d=>d.i+OFFO-CAP,y2:d=>d.i+OFFO+CAP,stroke:"#e9709f",strokeWidth:2.5}),
  Plot.frame({stroke:"#000",strokeWidth:4}),
  Plot.axisX({ticks:logMajor,anchor:"bottom",label:null,tickSize:20,tickPadding:14,fontSize:43,fontWeight:700,strokeWidth:3.5,tickFormat:d=>String(d)}),
  Plot.axisX({ticks:logMinor,anchor:"bottom",label:null,tickSize:13,strokeWidth:3,fill:"none"}),
  Plot.axisY({ticks:d3.range(10),anchor:"left",label:null,tickSize:21,strokeWidth:3.5,fill:"none"}),
  Plot.text(kRows,{frameAnchor:"left",dx:-30.5,y:d=>d.i+d.nudge/73.3,text:"name",textAnchor:"end",fontSize:46,lineHeight:0.95,fill:"#111"})
]});
panel({frame:[2706,2040,2849,2740], pad:[2,2,2,2], x:{domain:[2706,2849]}, y:{domain:[0,9],range:[2074,2718.6]}, marks:[
  Plot.ruleY(d3.range(10),{x1:()=>2706,x2:()=>2731,stroke:"#000",strokeWidth:3.5}),
  Plot.text(kSignif,{x:()=>2778,y:(d,i)=>i,fontSize:62,fontWeight:700,dy:12,fill:"#000"})
]});
const ldaRows = ldaScore.map((v,i)=>({i,v,g:ldaGroup[i]}));
panel({frame:[2849.4,2027.6,3074,2767], pad:[30,10,30,90], x:{domain:[3,6]}, y:{domain:[0,9],range:[2076,2720]}, marks:[
  Plot.rect(ldaRows,{x1:()=>3,x2:"v",y1:d=>d.i-0.322,y2:d=>d.i+0.322,fill:d=>d.g==="OVA"?"#f6b0c6":"#d2d2d2",stroke:d=>d.g==="OVA"?"#e9709f":"#6f6f6f",strokeWidth:4}),
  Plot.frame({stroke:"#000",strokeWidth:4}),
  Plot.axisX({ticks:[3,4,5,6],anchor:"bottom",label:null,tickSize:22,tickPadding:12,fontSize:43,fontWeight:700,strokeWidth:3.5,tickFormat:d3.format("d")}),
  Plot.axisY({ticks:d3.range(10),anchor:"left",label:null,tickSize:13,strokeWidth:3.5,fill:"none"})
]});
swatchList({names:["OVA","CON"], fills:["#f6b0c6","#d2d2d2"], strokes:["#e9709f","#6f6f6f"], sx:3097, sw:49, sh:22, ys:[2049,2113], textX:3176, fontSize:43, fontWeight:700, textDy:-4});

// ---------- overlay ----------
const overlayRow = a => ({text:a[0],x:a[1],y:a[2],size:a[3],rotate:a[4]});
panel({frame:[0,0,3304,2947], pad:[0,0,0,0], x:{domain:[0,3304]}, y:{domain:[0,2947],range:[0,2947]}, marks:[
  Plot.text(panelLetters,{x:"1",y:"2",text:"0",fontSize:75,fontWeight:700,textAnchor:"start",lineAnchor:"bottom",fill:"#231815"}),
  Plot.text(boldLabels.map(overlayRow),{x:"x",y:"y",text:"text",fontSize:"size",rotate:"rotate",fontWeight:700,fill:"#000"}),
  Plot.text(startLabels,{x:"1",y:"2",text:"0",fontSize:43,fontWeight:700,textAnchor:"start",fill:"#000"}),
  Plot.text(sigStars,{x:"1",y:"2",text:"0",fontSize:62,fontWeight:700,dy:11,fill:"#000"}),
  Plot.dot(eLegendDots,{x:"1",y:"2",r:7.5,fill:d=>d[0]==="CON"?"#9a9a9a":"#ee85bd"})
]});
</script>
</body>
</html>
